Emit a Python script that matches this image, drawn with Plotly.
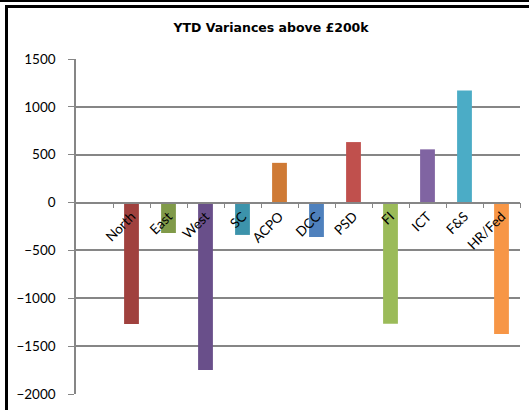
import plotly.graph_objects as go

# YTD variances (£k) by area
categories = ["North", "East", "West", "SC", "ACPO", "DCC", "PSD", "FI", "ICT", "F&S", "HR/Fed"]
variances = [-1268, -318, -1750, -338, 415, -360, 632, -1266, 556, 1172, -1372]
bar_colors = ["#A0413E", "#809A49", "#694F8A", "#3C93AB", "#CF7A35", "#4F81BD",
              "#C0504D", "#9BBB59", "#8064A2", "#4BACC6", "#F79646"]
y_ticks = [-2000, -1500, -1000, -500, 0, 500, 1000, 1500]

W, H = 529, 410
L, R, T, B = 76, 9, 59, 16
y_min, y_max = -2000, 1500

fig = go.Figure(go.Bar(
    x=categories, y=variances, marker_color=bar_colors,
    marker_line_width=0, width=0.4,
))

grid = "#868686"
font_family = "Lato, 'Open Sans', sans-serif"

# position of the value 0 within the plot height (paper fraction)
zero_pos = (0 - y_min) / (y_max - y_min)

fig.update_layout(
    width=W, height=H,
    margin=dict(l=L, r=R, t=T, b=B),
    paper_bgcolor="white", plot_bgcolor="white",
    showlegend=False,
    title=dict(text="<b>YTD Variances above £200k</b>", x=271 / W,
               xanchor="center", y=1 - 28 / H, yanchor="middle",
               font=dict(family="'DejaVu Sans', Verdana, sans-serif", size=12.5, color="black")),
    xaxis=dict(
        type="category", range=[-1.5, len(categories) - 0.5],
        anchor="free", position=zero_pos,
        showline=True, linecolor=grid, linewidth=1.5,
        ticks="outside", tickson="boundaries", ticklen=5, tickcolor=grid,
        tickangle=-45, showgrid=False, zeroline=False,
        tickfont=dict(family=font_family, size=13.5, color="black"),
    ),
    yaxis=dict(
        range=[y_min, y_max], tickvals=y_ticks,
        showline=True, linecolor=grid, linewidth=1.5,
        ticks="outside", ticklen=6, tickcolor=grid,
        showgrid=True, gridcolor=grid, gridwidth=1.5,
        zeroline=False, ticklabelstandoff=10,
        tickfont=dict(family=font_family, size=13.5, color="black"),
    ),
)

# chart-area frame: thin rule across the top and a heavier border
pw, ph = W - L - R, H - T - B
def px_x(px):
    return (px - L) / pw
def px_y(py):
    return (H - B - py) / ph

fig.add_shape(type="rect", xref="paper", yref="paper",
              x0=px_x(0), x1=px_x(W), y0=px_y(2), y1=px_y(0),
              fillcolor="black", line_width=0, layer="above")
fig.add_shape(type="line", xref="paper", yref="paper",
              x0=px_x(6.5), x1=px_x(W), y0=px_y(6.5), y1=px_y(6.5),
              line=dict(color="black", width=3), layer="above")
fig.add_shape(type="line", xref="paper", yref="paper",
              x0=px_x(6.5), x1=px_x(6.5), y0=px_y(5), y1=px_y(H),
              line=dict(color="black", width=3), layer="above")

fig.write_html("out.html")
